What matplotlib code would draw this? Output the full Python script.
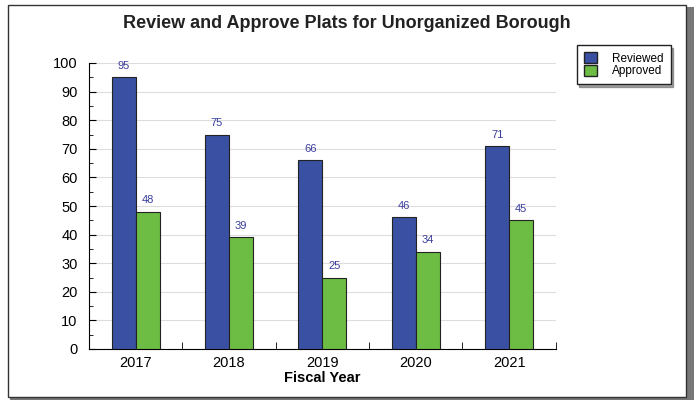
import matplotlib.pyplot as plt
from matplotlib.patches import Rectangle, Patch
import numpy as np

plt.rcParams['font.family'] = ['Liberation Sans', 'DejaVu Sans']

# data
years = ['2017', '2018', '2019', '2020', '2021']
reviewed = [95, 75, 66, 46, 71]
approved = [48, 39, 25, 34, 45]

blue = '#3a51a3'
green = '#6dbd45'
label_col = '#3a3d9c'

fig = plt.figure(figsize=(6.94, 4), dpi=100)

# outer frame with a grey shadow
fig.patches.append(Rectangle((0.0145, 0.0), 0.985, 0.9825, transform=fig.transFigure,
                             facecolor='#777777', edgecolor='none', zorder=-2))
fig.patches.append(Rectangle((0.0115, 0.0075), 0.977, 0.98, transform=fig.transFigure,
                             facecolor='white', edgecolor='#333333', lw=1.0, zorder=-1))

ax = fig.add_axes([0.128, 0.1275, 0.673, 0.715])
x = np.arange(len(years))
w = 0.257
b1 = ax.bar(x - w / 2, reviewed, w, color=blue, edgecolor='#222222', lw=0.8, zorder=3)
b2 = ax.bar(x + w / 2, approved, w, color=green, edgecolor='#222222', lw=0.8, zorder=3)

for bars, vals in ((b1, reviewed), (b2, approved)):
    for r, v in zip(bars, vals):
        ax.text(r.get_x() + r.get_width() / 2, v + 2.2, str(v), ha='center', va='bottom',
                fontsize=8, color=label_col)

ax.set_xlim(-0.5, 4.5)
ax.set_ylim(0, 100)
ax.set_yticks(range(0, 101, 10))
ax.set_yticks(range(0, 101, 5), minor=True)
ax.set_xticks(x)
ax.set_xticklabels(years)
ax.set_xticks(np.arange(0.5, 5, 1), minor=True)
ax.tick_params(axis='x', which='major', length=0, labelsize=10.5, pad=5)
ax.tick_params(axis='x', which='minor', direction='in', length=5)
ax.tick_params(axis='y', which='major', direction='in', length=5, labelsize=10.5, pad=8)
ax.tick_params(axis='y', which='minor', direction='in', length=3)
ax.grid(axis='y', color='#dddddd', lw=0.8, zorder=0)
for s in ('top', 'right'):
    ax.spines[s].set_visible(False)
ax.set_xlabel('Fiscal Year', fontsize=10.5, fontweight='bold', labelpad=1)

fig.text(0.5, 0.94, 'Review and Approve Plats for Unorganized Borough', ha='center', va='center',
         fontsize=13, fontweight='bold', color='#222222')

handles = [Patch(facecolor=blue, edgecolor='#222222', label='Reviewed'),
           Patch(facecolor=green, edgecolor='#222222', label='Approved')]
fig.legend(handles=handles, loc='upper left', bbox_to_anchor=(0.831, 0.888), fontsize=8.5,
           frameon=True, fancybox=False, shadow=True, edgecolor='#222222',
           handlelength=1.1, handleheight=1.1, handletextpad=1.3, labelspacing=0.0,
           borderpad=0.6, borderaxespad=0)

fig.savefig('out.png', dpi=100)
